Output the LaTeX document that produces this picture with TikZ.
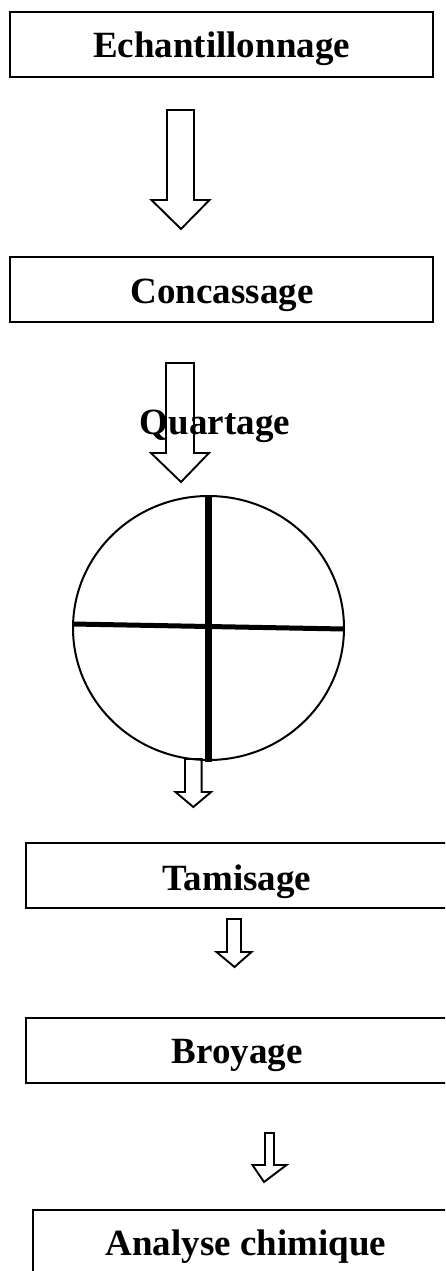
\documentclass[tikz,border=0pt]{standalone}
\usepackage{fontspec}
\setmainfont{Liberation Serif}
\begin{document}
\begin{tikzpicture}[x=1pt,y=-1pt,
  stepbox/.style={draw=black,line width=2pt},
  label/.style={font=\fontsize{37}{40}\selectfont\bfseries,anchor=base,inner sep=0pt},
  blockarr/.style={draw=black,line width=1.9pt,line join=miter},
  cross/.style={draw=black}]
\useasboundingbox (0,0) rectangle (445,1271);
\clip (0,0) rectangle (445,1271);
% boxes
\draw[stepbox] (10,12) rectangle (433,77);
\node[label] (t1) at (221.5,58) {Echantillonnage};
\draw[stepbox] (10,257) rectangle (433,322);
\node[label] (t2) at (222,303) {Concassage};
\node[label] (t3) at (215,434) {Quartage};
\draw[stepbox] (26,843) rectangle (460,908);
\node[label] (t4) at (237,890) {Tamisage};
\draw[stepbox] (26,1018) rectangle (460,1083);
\node[label] (t5) at (237,1063) {Broyage};
\draw[stepbox] (33,1210) rectangle (460,1290);
\node[label] (t6) at (246,1255) {Analyse chimique};
% circle
\draw[line width=2pt] (208.5,628) ellipse [x radius=135.5, y radius=132];
\coordinate (vt) at (208,496);
\coordinate (vb) at (208,762);
\coordinate (hl) at (73,624);
\coordinate (hr) at (344,629);
\draw[cross,line width=7pt] (vt) -- (vb);
\draw[cross,line width=5pt] (hl) -- (hr);
% block arrows
\newcommand\barrow[7]{% cx, shaft half, head half, top, neck, tip
  \draw[blockarr] (#1-#2,#4) -- (#1+#2,#4) -- (#1+#2,#5) -- (#1+#3,#5) -- (#6,#7) -- (#1-#3,#5) -- (#1-#2,#5) -- cycle;}
\barrow{180.5}{13.5}{29}{110}{200}{181}{229}
\barrow{180}{14}{29}{363}{453}{181}{482}
\barrow{193.3}{8.3}{17.8}{759}{792}{193.3}{807}
\barrow{234}{7}{17.5}{919}{952}{234.5}{967}
\barrow{269.5}{4.5}{17}{1133}{1165}{264}{1182}
\end{tikzpicture}
\end{document}
